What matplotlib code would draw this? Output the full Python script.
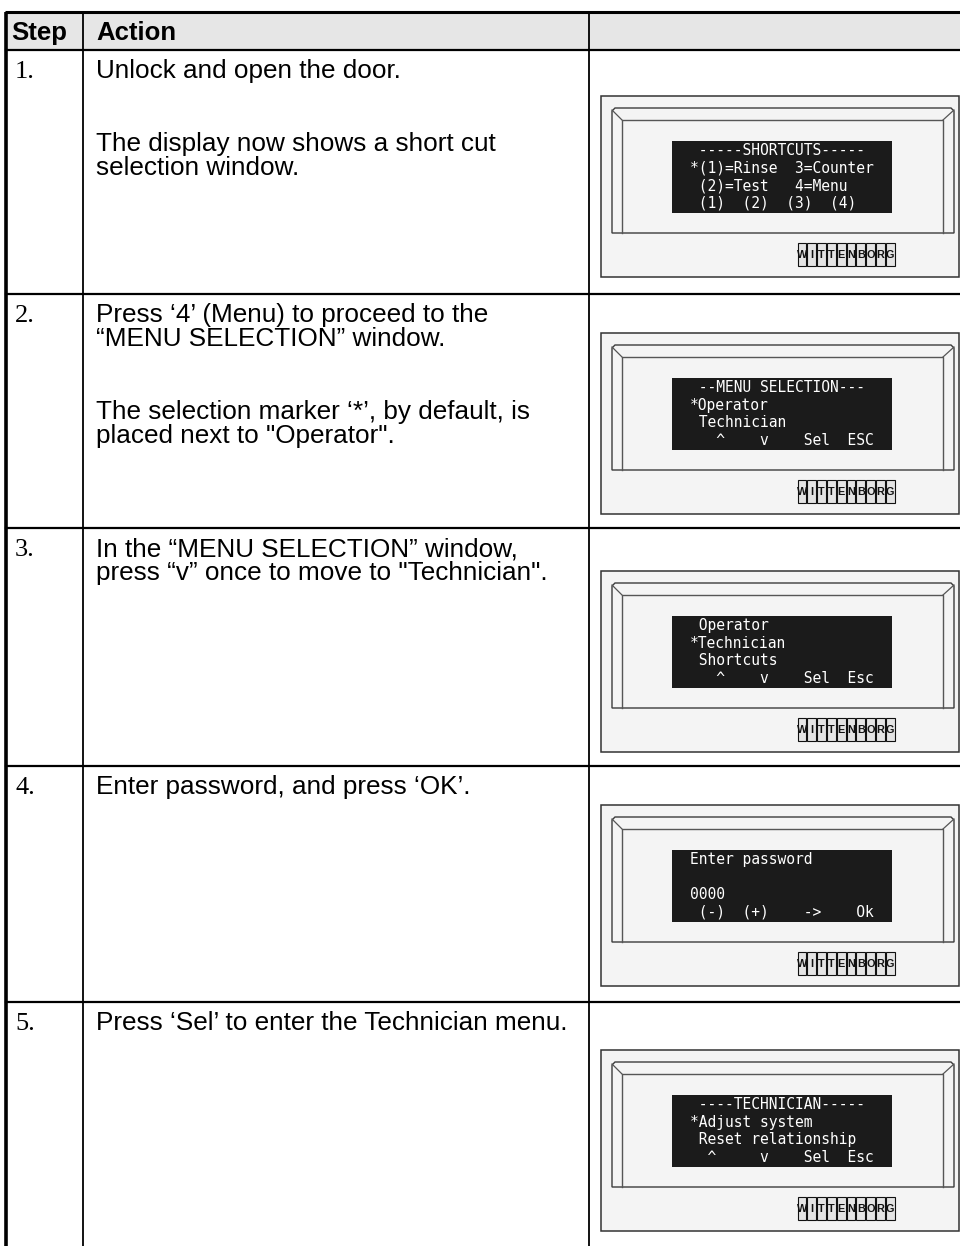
"""Step/Action table with Wittenborg display panels, drawn with matplotlib"""

import matplotlib

matplotlib.use("Agg")
import matplotlib.pyplot as plt
from matplotlib.patches import Polygon, Rectangle

# region data
header_labels = ["Step", "Action"]
step_labels = ["1.", "2.", "3.", "4.", "5."]
action_lines = [
    ["Unlock and open the door.", "", "", "The display now shows a short cut", "selection window."],
    ["Press \u20184\u2019 (Menu) to proceed to the", "\u201cMENU SELECTION\u201d window.", "", "",
     "The selection marker \u2018*\u2019, by default, is", "placed next to \"Operator\"."],
    ["In the \u201cMENU SELECTION\u201d window,", "press \u201cv\u201d once to move to \"Technician\"."],
    ["Enter password, and press \u2018OK\u2019."],
    ["Press \u2018Sel\u2019 to enter the Technician menu."],
]
display_lines = [
    [" -----SHORTCUTS-----", "*(1)=Rinse  3=Counter", " (2)=Test   4=Menu", " (1)  (2)  (3)  (4)"],
    [" --MENU SELECTION---", "*Operator", " Technician", "   ^    v    Sel  ESC"],
    [" Operator", "*Technician", " Shortcuts", "   ^    v    Sel  Esc"],
    ["Enter password", "", "0000", " (-)  (+)    ->    Ok"],
    [" ----TECHNICIAN-----", "*Adjust system", " Reset relationship", "  ^     v    Sel  Esc"],
]
logo_letters = list("WITTENBORG")
# endregion

# region layout
W, H = 960, 1246
LEFT, COL1, COL2 = 6, 83, 589
TOP, HEAD_BOTTOM = 12, 50
row_tops = [50, 294, 528, 766, 1002]
panel_tops = [96, 333, 571, 805, 1050]
LINE_GAP = 24.2
BODY_SIZE = 18.8
# endregion

fig = plt.figure(figsize=(W / 100, H / 100), dpi=100)
ax = fig.add_axes([0, 0, 1, 1])
ax.set_xlim(0, W)
ax.set_ylim(H, 0)
ax.axis("off")

# header band
ax.add_patch(Rectangle((LEFT, TOP), W - LEFT, HEAD_BOTTOM - TOP, facecolor="#e6e6e6", edgecolor="none", zorder=0))
for x, label in zip((11, 96), header_labels):
    ax.text(x, 40, label, fontsize=18.5, fontweight="bold", family="Liberation Sans", va="baseline")

# grid lines
ax.plot([LEFT - 1, W], [TOP, TOP], color="black", lw=2.2, solid_capstyle="butt")
ax.plot([LEFT, LEFT], [TOP, H], color="black", lw=2.6, solid_capstyle="butt")
for x in (COL1, COL2):
    ax.plot([x, x], [TOP, H], color="black", lw=1.3, solid_capstyle="butt")
ax.plot([LEFT, W], [HEAD_BOTTOM, HEAD_BOTTOM], color="black", lw=1.6)
for y in row_tops[1:]:
    ax.plot([LEFT, W], [y, y], color="black", lw=1.6)


def draw_panel(top, lines):
    """画一个带显示屏与 logo 的面板"""

    ax.add_patch(Rectangle((601, top), 358, 181, facecolor="#f4f4f4", edgecolor="#333333", lw=1.1, zorder=1))
    bevel = [(612, top + 137), (612, top + 15), (615, top + 12), (951, top + 12), (954, top + 15), (954, top + 137)]
    ax.add_patch(Polygon(bevel, closed=True, facecolor="none", edgecolor="#3c3c3c", lw=1.0, zorder=2))
    ax.plot([622, 622, 943, 943], [top + 137, top + 24, top + 24, top + 137], color="#555555", lw=1.0, zorder=2)
    ax.plot([612, 622], [top + 14, top + 24], color="#555555", lw=0.9, zorder=2)
    ax.plot([954, 943], [top + 14, top + 24], color="#555555", lw=0.9, zorder=2)
    ax.add_patch(Rectangle((672, top + 45), 220, 72, facecolor="#1b1b1b", edgecolor="none", zorder=3))
    for i, line in enumerate(lines):
        ax.text(690, top + 54.5 + i * 17.6, line, color="white", fontsize=10.5, family="DejaVu Sans Mono",
                va="center", ha="left", zorder=4)
    box_w = 98 / len(logo_letters)
    for i, letter in enumerate(logo_letters):
        x0 = 797 + i * box_w
        ax.add_patch(Rectangle((x0 + 0.5, top + 147), box_w - 1, 23, facecolor="#e4e4e4",
                               edgecolor="#111111", lw=0.8, zorder=3))
        ax.text(x0 + box_w / 2, top + 159, letter, fontsize=7.8, fontweight="bold", family="Liberation Sans",
                ha="center", va="center", color="#111111", zorder=4)


for row, (step, lines, disp) in enumerate(zip(step_labels, action_lines, display_lines)):
    base = row_tops[row] + 28
    ax.text(15, base, step, fontsize=19, family="Liberation Serif", va="baseline")
    for j, line in enumerate(lines):
        if line:
            ax.text(96, base + j * LINE_GAP, line, fontsize=BODY_SIZE, family="Liberation Sans", va="baseline")
    draw_panel(panel_tops[row], disp)

fig.savefig("out.png", dpi=100)
